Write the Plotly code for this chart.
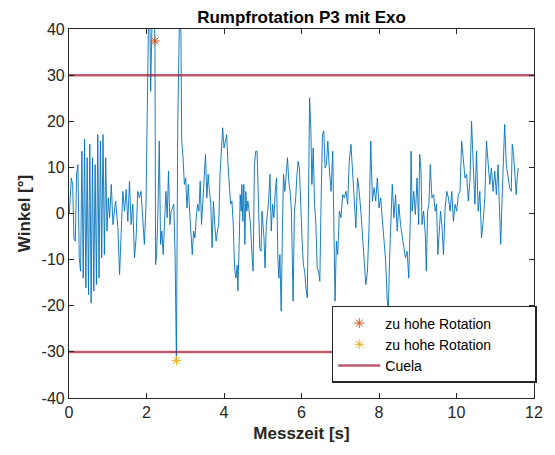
import plotly.graph_objects as go

# Messzeit [s] and Winkel [°] (peaks/troughs)
zeit = [0.009,0.034,0.060,0.094,0.128,0.162,0.196,0.230,0.264,0.299,0.333,0.367,0.401,0.435,0.469,0.503,
        0.537,0.571,0.606,0.640,0.674,0.708,0.742,0.776,0.810,0.844,0.878,0.913,0.947,0.981,1.015,1.049,
        1.092,1.134,1.203,1.262,1.305,1.348,1.390,1.433,1.475,1.518,1.561,1.603,1.646,1.689,1.731,1.774,
        1.817,1.859,1.902,1.945,1.987,2.013,2.030,2.073,2.107,2.141,2.175,2.209,2.218,2.235,2.261,2.295,
        2.329,2.363,2.397,2.431,2.466,2.500,2.534,2.568,2.603,2.636,2.670,2.704,2.739,2.756,2.772,2.807,
        2.833,2.874,2.909,2.943,2.977,3.011,3.045,3.079,3.113,3.147,3.181,3.215,3.250,3.284,3.318,3.352,
        3.386,3.420,3.455,3.489,3.523,3.557,3.591,3.625,3.659,3.693,3.727,3.762,3.796,3.830,3.864,3.898,
        3.932,3.966,4.000,4.034,4.069,4.103,4.137,4.171,4.205,4.239,4.273,4.307,4.341,4.358,4.393,4.418,
        4.444,4.461,4.487,4.512,4.538,4.563,4.589,4.615,4.649,4.683,4.717,4.751,4.785,4.819,4.853,4.887,
        4.922,4.956,4.981,5.007,5.032,5.058,5.092,5.126,5.152,5.186,5.220,5.254,5.288,5.322,5.356,5.390,
        5.416,5.442,5.476,5.510,5.535,5.570,5.604,5.638,5.672,5.706,5.740,5.783,5.817,5.851,5.877,5.911,
        5.945,5.979,6.013,6.047,6.081,6.115,6.149,6.175,6.209,6.243,6.268,6.302,6.337,6.371,6.405,6.439,
        6.473,6.507,6.541,6.575,6.609,6.643,6.679,6.721,6.764,6.806,6.841,6.866,6.900,6.934,6.977,7.020,
        7.062,7.105,7.148,7.190,7.233,7.276,7.318,7.361,7.404,7.446,7.489,7.531,7.574,7.617,7.659,7.702,
        7.745,7.787,7.830,7.873,7.915,7.958,8.001,8.043,8.086,8.129,8.171,8.214,8.240,8.274,8.299,8.342,
        8.385,8.427,8.470,8.512,8.555,8.598,8.640,8.683,8.726,8.768,8.811,8.828,8.854,8.896,8.939,8.982,
        9.024,9.050,9.084,9.110,9.152,9.195,9.221,9.255,9.289,9.323,9.366,9.409,9.451,9.485,9.519,9.554,
        9.588,9.622,9.664,9.707,9.750,9.792,9.835,9.878,9.920,9.963,10.005,10.048,10.091,10.133,10.176,
        10.219,10.261,10.304,10.347,10.389,10.432,10.475,10.517,10.560,10.603,10.645,10.688,10.731,10.773,
        10.816,10.859,10.901,10.944,10.987,11.029,11.072,11.115,11.140,11.183,11.217,11.243,11.285,11.328,
        11.371,11.413,11.439,11.473,11.499,11.541,11.567,11.593]
winkel = [0.0,3.4,7.7,6.3,-5.3,-6.0,8.5,10.6,-9.6,-12.5,13.5,-14.0,16.1,-16.1,12.1,-17.6,
          15.0,-19.4,12.1,-16.8,10.6,-15.4,17.1,-14.0,15.7,-9.6,17.1,-8.9,12.1,-3.8,3.4,-0.9,
          6.3,-2.4,2.7,-3.1,-13.2,-3.8,4.8,0.5,5.2,-1.7,7.0,-2.4,2.0,-9.6,-5.3,4.8,
          3.4,4.8,-2.4,-6.7,2.0,19.3,55.0,55.0,26.5,55.0,55.0,40.5,37.4,-11.1,-8.9,0.5,
          15.7,-6.7,-3.8,-8.9,0.5,4.8,-0.9,9.2,-2.4,0.5,1.2,2.0,-9.6,-21.2,-31.9,19.3,
          55.0,55.0,15.7,12.1,6.3,7.7,1.2,6.3,0.5,-5.3,-8.9,-3.8,-5.3,-0.9,2.0,0.5,
          7.0,-2.4,3.4,8.5,12.8,3.4,8.5,4.8,2.0,-7.4,2.7,-2.4,-6.0,-3.8,-2.4,8.5,
          13.5,18.6,14.2,15.7,17.1,10.6,4.8,2.0,2.7,-2.4,-11.8,-14.0,-11.2,-16.8,-6.0,4.1,
          0.5,6.3,-1.7,6.3,-6.7,4.8,0.5,2.7,0.5,-2.4,-8.2,-12.5,10.6,13.5,13.5,3.4,
          -7.5,-8.2,0.5,-2.4,-5.3,-11.8,-2.4,0.5,2.7,8.5,-3.8,2.0,-0.9,4.8,7.7,-9.6,
          -14.0,-8.9,-21.2,-2.4,8.5,4.8,9.9,12.1,7.0,4.8,0.5,-19.0,0.5,3.4,7.7,11.3,
          9.9,0.5,-5.3,-11.1,-12.5,-16.1,-18.3,-1.7,25.1,17.9,6.3,14.2,2.0,-2.4,-11.8,-12.5,
          -14.7,3.4,17.1,17.9,9.9,10.6,15.7,9.2,4.8,13.5,-6.0,-19.0,-6.0,-8.9,0.5,-0.9,
          4.1,3.4,4.8,2.0,11.3,15.0,9.2,2.0,-3.1,7.7,4.8,0.5,-5.3,-9.6,-15.4,-12.5,
          -2.4,15.7,2.7,5.6,2.7,7.7,1.2,3.4,-1.7,-5.3,-10.3,-19.0,-21.2,-9.6,-3.8,6.3,
          -0.9,4.1,-3.8,2.0,-2.4,-4.6,-6.7,-9.6,-8.2,-14.0,-0.2,13.5,0.5,4.8,-0.2,7.7,
          -2.4,12.8,9.2,-2.4,0.5,-4.6,-12.5,0.5,2.0,10.6,3.4,4.1,0.5,2.0,-8.9,-2.4,
          0.5,-2.4,-8.9,1.2,4.8,3.4,0.5,4.8,-1.7,2.0,0.5,4.1,4.8,15.7,12.1,
          7.7,8.5,2.7,7.0,20.0,10.6,2.0,13.5,0.5,4.8,-5.3,-1.7,3.4,15.7,
          10.6,6.3,9.9,4.8,9.2,4.1,10.6,-2.4,-6.7,4.8,16.4,19.3,10.6,7.7,
          5.6,4.8,15.0,12.8,9.2,4.1,7.7,9.9]

over_t = [2.218]
over_v = [37.4]
under_t = [2.772]
under_v = [-31.9]
cuela_limits = [30, -30]
x_range = [0, 12]
y_range = [-40, 40]
x_ticks = [0, 2, 4, 6, 8, 10, 12]
x_ticklabels = ["0", "2", "4", "6", "8", "10", "12"]
y_ticks = [-40, -30, -20, -10, 0, 10, 20, 30, 40]
y_ticklabels = ["-40", "-30", "-20", "-10", "0", "10", "20", "30", "40"]

font = "Liberation Sans, Arial, Helvetica, sans-serif"
axcol = "#262626"
pad = "\u00a0" * 10

fig = go.Figure()
fig.add_trace(go.Scatter(x=zeit, y=winkel, mode="lines", line=dict(color="#0072BD", width=0.9),
                         showlegend=False, hoverinfo="skip"))
fig.add_trace(go.Scatter(x=over_t, y=over_v, mode="markers", name="zu hohe Rotation" + pad,
                         marker=dict(symbol="asterisk-open", size=8, color="#D95319",
                                     line=dict(color="#D95319", width=1))))
fig.add_trace(go.Scatter(x=under_t, y=under_v, mode="markers", name="zu hohe Rotation" + pad,
                         marker=dict(symbol="asterisk-open", size=8, color="#EDB120",
                                     line=dict(color="#EDB120", width=1))))
for i, lim in enumerate(cuela_limits):
    fig.add_trace(go.Scatter(x=x_range, y=[lim, lim], mode="lines", name="Cuela",
                             line=dict(color="rgba(162,20,47,0.7)", width=2.5),
                             showlegend=(i == 0)))

fig.update_layout(
    width=555, height=455,
    margin=dict(l=69, r=17, t=29, b=57),
    paper_bgcolor="white", plot_bgcolor="white",
    font=dict(family=font, size=16, color=axcol),
    title=dict(text="<b>Rumpfrotation P3 mit Exo</b>", x=0.5, xanchor="center",
               xref="paper", y=0.962, yanchor="middle", font=dict(size=17, color="black")),
    legend=dict(x=1.006, xanchor="right", y=0.0407, yanchor="bottom",
                bgcolor="white", bordercolor="#262626", borderwidth=1.5,
                font=dict(size=14, color="black"), tracegroupgap=0,
                itemwidth=42),
    showlegend=True,
)
fig.update_xaxes(range=x_range, tickvals=x_ticks, ticktext=x_ticklabels, ticks="inside", ticklen=5,
                 tickcolor=axcol, showline=True, linecolor=axcol, linewidth=1.2, mirror="ticks",
                 showgrid=False, zeroline=False, tickfont=dict(size=16),
                 title=dict(text="<b>Messzeit [s]</b>", standoff=6, font=dict(size=17, color=axcol)))
fig.update_yaxes(range=y_range, tickvals=y_ticks, ticktext=y_ticklabels, ticks="inside",
                 ticklen=5, tickcolor=axcol, showline=True, linecolor=axcol, linewidth=1.2,
                 mirror="ticks", showgrid=False, zeroline=False, tickfont=dict(size=16),
                 title=dict(text="<b>Winkel [°]</b>", standoff=6, font=dict(size=17, color=axcol)))

fig.write_html("out.html")
